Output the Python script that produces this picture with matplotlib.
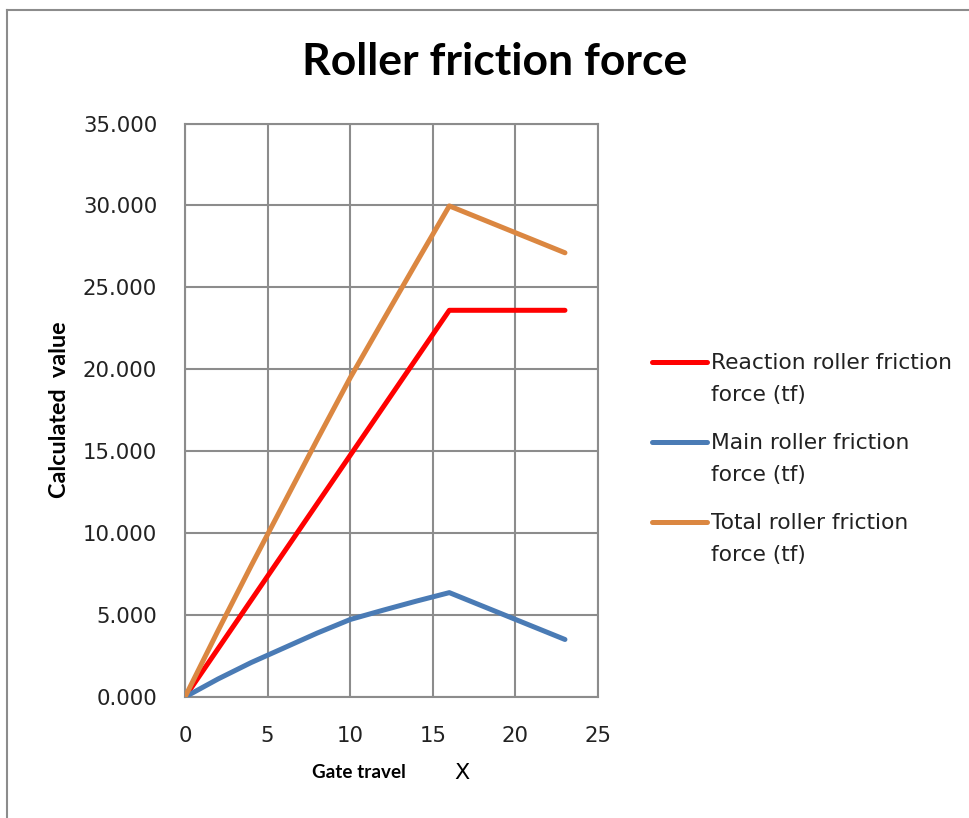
import matplotlib
matplotlib.use("Agg")
import matplotlib.pyplot as plt
from matplotlib.lines import Line2D

# ---- data ----
gate_travel = [0, 2, 4, 6, 8, 10, 12, 14, 16, 23]
reaction_force = [0, 2.95, 5.90, 8.85, 11.80, 14.75, 17.70, 20.65, 23.60, 23.60]
main_force = [0, 1.10, 2.10, 3.00, 3.90, 4.73, 5.30, 5.85, 6.37, 3.51]
total_force = [0, 4.05, 8.00, 11.85, 15.70, 19.48, 23.00, 26.50, 29.97, 27.11]

series_labels = [
    ("Reaction roller friction", "force (tf)"),
    ("Main roller friction", "force (tf)"),
    ("Total roller friction", "force (tf)"),
]
colors = ["#FF0000", "#4A7BB5", "#DB8741"]

x_ticks = [0, 5, 10, 15, 20, 25]
y_ticks = [0, 5, 10, 15, 20, 25, 30, 35]

W, H = 970, 818
fig = plt.figure(figsize=(W / 100, H / 100), dpi=100)
fig.patch.set_facecolor("white")

def fx(px):
    return px / W

def fy(py):
    return 1 - py / H

ax = fig.add_axes([fx(185), fy(697), fx(598) - fx(185), fy(123.5) - fy(697)])

series = [reaction_force, main_force, total_force]
for vals, c in zip(series, colors):
    ax.plot(gate_travel, vals, color=c, lw=3.6, solid_capstyle="round",
            solid_joinstyle="round", zorder=3)

ax.set_xlim(0, 25)
ax.set_ylim(0, 35)
ax.set_xticks(x_ticks)
ax.set_yticks(y_ticks)
ax.set_xticklabels([str(t) for t in x_ticks])
ax.set_yticklabels([f"{t:.3f}" for t in y_ticks])
ax.grid(True, color="#8C8C8C", lw=1.5)
ax.set_axisbelow(True)
for s in ax.spines.values():
    s.set_color("#8C8C8C")
    s.set_linewidth(1.5)
ax.tick_params(axis="both", length=0, labelsize=15.3, colors="#222222")
ax.tick_params(axis="y", pad=20)
ax.tick_params(axis="x", pad=21)
for lab in ax.get_xticklabels() + ax.get_yticklabels():
    lab.set_family("DejaVu Sans")

narrow = ["Lato", "DejaVu Sans"]

fig.text(fx(495), fy(62), "Roller friction force", ha="center", va="center",
         fontsize=32, fontweight="bold", family=narrow, color="black")

fig.text(fx(60), fy(410), "Calculated  value", ha="center", va="center",
         rotation=90, fontsize=16.8, fontweight="bold", family=narrow, color="black")

fig.text(fx(359), fy(773), "Gate travel", ha="center", va="center",
         fontsize=13.6, fontweight="bold", family=narrow, color="black")
fig.text(fx(462), fy(773), "X", ha="center", va="center",
         fontsize=16, family="DejaVu Sans", color="black")

# legend (drawn manually to match the layout)
legend_y = [362, 442, 522]
for (l1, l2), c, yy in zip(series_labels, colors, legend_y):
    fig.add_artist(Line2D([fx(652), fx(707)], [fy(yy), fy(yy)], color=c,
                          lw=3.6, solid_capstyle="round",
                          transform=fig.transFigure))
    fig.text(fx(711), fy(yy + 1), l1, ha="left", va="center", fontsize=15.7,
             family="DejaVu Sans", color="#222222")
    fig.text(fx(711), fy(yy + 33), l2, ha="left", va="center", fontsize=15.7,
             family="DejaVu Sans", color="#222222")

# chart area border (partially cropped)
fig.add_artist(Line2D([fx(7.5), fx(7.5)], [0, fy(10)], color="#8C8C8C",
                      lw=1.5, transform=fig.transFigure))
fig.add_artist(Line2D([fx(7.5), 1], [fy(10), fy(10)], color="#8C8C8C",
                      lw=1.5, transform=fig.transFigure))

fig.savefig("out.png", dpi=100, facecolor="white")
